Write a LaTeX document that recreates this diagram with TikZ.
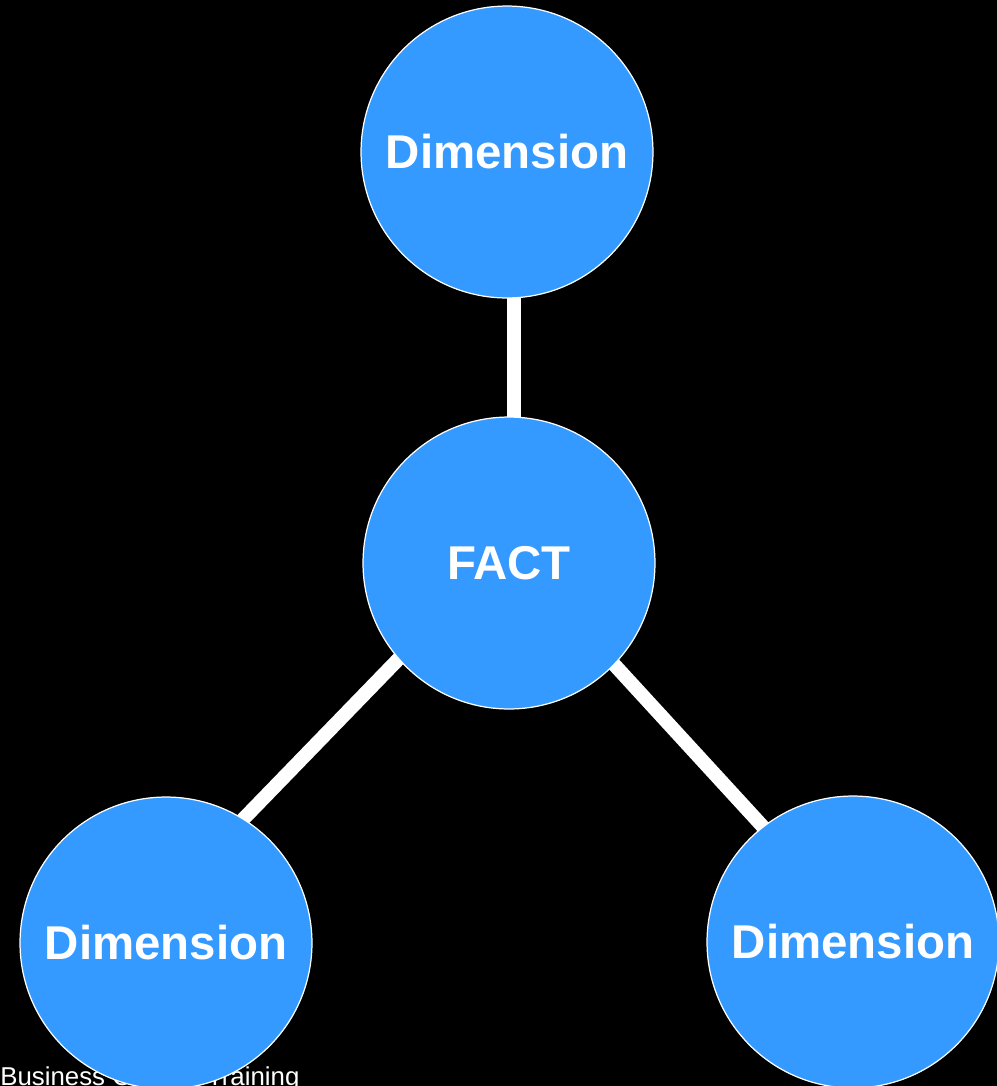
\documentclass[tikz,border=0pt]{standalone}
\usepackage{fontspec}
\setmainfont{Liberation Sans}
\usetikzlibrary{backgrounds}
\definecolor{dimblue}{RGB}{52,154,255}
\tikzset{
	ball/.style={circle,fill=dimblue,draw=white,line width=0.7pt,minimum size=5.84cm,inner sep=0pt,text=white,font=\fontsize{27}{30}\selectfont\bfseries},
	link/.style={white,line width=0.28cm,shorten <=-12pt,shorten >=-12pt}
}
\begin{document}
\begin{tikzpicture}[x=0.02cm,y=-0.02cm]
		\useasboundingbox (0,0) rectangle (997,1086);
		\node[anchor=base west,text=white,inner sep=0pt,font=\fontsize{14.7}{17}\selectfont] (foot) at (0,1085) {Business Objects Training};
		\node[ball] (top) at (507,152) {Dimension};
		\node[ball] (fact) at (509,563) {FACT};
		\node[ball] (left) at (166,943) {Dimension};
		\node[ball] (right) at (853,942) {Dimension};
		\begin{scope}[on background layer]
		\fill[black] (0,0) rectangle (997,1086);
		\draw[link] ([xshift=0.1cm]fact.north) -- ([xshift=0.1cm]fact.north |- top.south);
		\draw[link] (fact.-139) -- (left.58);
		\draw[link] (fact.-44) -- (right.128);
		\end{scope}
		\end{tikzpicture}
\end{document}
